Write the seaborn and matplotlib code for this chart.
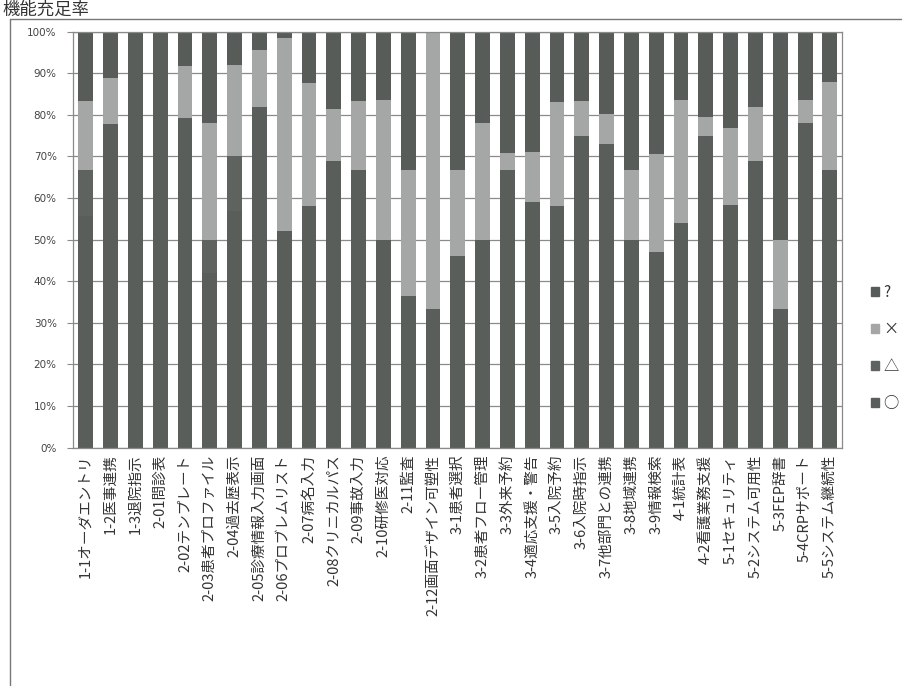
import matplotlib
matplotlib.use('Agg')
import matplotlib.pyplot as plt
from matplotlib.patches import Patch
from matplotlib.lines import Line2D
import seaborn as sns
import pandas as pd
import numpy as np

# データ (%)
labels = ['1-1オーダエントリ', '1-2医事連携', '1-3退院指示', '2-01問診表', '2-02テンプレート',
          '2-03患者プロファイル', '2-04過去歴表示', '2-05診療情報入力画面', '2-06プロブレムリスト',
          '2-07病名入力', '2-08クリニカルパス', '2-09事故入力', '2-10研修医対応', '2-11監査',
          '2-12画面デザイン可塑性', '3-1患者選択', '3-2患者フロー管理', '3-3外来予約',
          '3-4適応支援・警告', '3-5入院予約', '3-6入院時指示', '3-7他部門との連携', '3-8地域連携',
          '3-9情報検索', '4-1統計表', '4-2看護業務支援', '5-1セキュリティ', '5-2システム可用性',
          '5-3FEP辞書', '5-4CRPサポート', '5-5システム継続性']

maru    = [55.6, 77.8, 100, 100, 79.2, 42, 57, 81.8, 52, 58, 69, 66.7, 50, 36.4, 33.3,
           46, 50, 66.7, 59, 58, 75, 73, 50, 47, 54, 75, 58.3, 69, 33.3, 78, 66.7]
sankaku = [11.1, 0, 0, 0, 0, 8, 13, 0, 0, 0, 0, 0, 0, 0, 0,
           0, 0, 0, 0, 0, 0, 0, 0, 0, 0, 0, 0, 0, 0, 0, 0]
batsu   = [16.7, 11.1, 0, 0, 12.5, 28, 22, 13.7, 46.4, 29.6, 12.3, 16.6, 33.5, 30.3, 66.7,
           20.7, 28, 4.2, 12, 25.2, 8.3, 7.3, 16.7, 23.5, 29.6, 4.5, 18.5, 13, 16.7, 5.6, 21.3]
hatena  = [16.6, 11.1, 0, 0, 8.3, 22, 8, 4.5, 1.6, 12.4, 18.7, 16.7, 16.5, 33.3, 0,
           33.3, 22, 29.1, 29, 16.8, 16.7, 19.7, 33.3, 29.5, 16.4, 20.5, 23.2, 18, 50, 16.4, 12]

c_maru = '#595e5b'
c_sankaku = '#5e6360'
c_batsu = '#a4a7a6'
c_hatena = '#575c59'

df = pd.DataFrame({'項目': labels, 'maru': maru, 'sankaku': sankaku,
                   'batsu': batsu, 'hatena': hatena})
df['s1'] = df['maru']
df['s2'] = df['s1'] + df['sankaku']
df['s3'] = df['s2'] + df['batsu']
df['s4'] = df['s3'] + df['hatena']

sns.set_style('white')
plt.rcParams['font.family'] = ['Noto Sans CJK JP', 'DejaVu Sans']

fig = plt.figure(figsize=(9.02, 6.86), dpi=100)
ax = fig.add_axes([0.0813, 0.3474, 0.8525, 0.6064])

# 積み上げ棒 (上から重ねる)
for col, c in [('s4', c_hatena), ('s3', c_batsu), ('s2', c_sankaku), ('s1', c_maru)]:
    sns.barplot(data=df, x='項目', y=col, color=c, width=0.6, saturation=1,
                edgecolor='none', ax=ax)

ax.set_ylim(0, 100)
ax.set_xlim(-0.5, len(labels) - 0.5)
ax.set_yticks(np.arange(0, 101, 10))
ax.set_yticklabels([f'{v}%' for v in range(0, 101, 10)], fontsize=7.5, color='#444444',
                   family=['DejaVu Sans'])
ax.set_xticks(range(len(labels)))
ax.set_xticklabels(labels, rotation=90, fontsize=10.5, color='#333333', ha='center', va='top')
ax.set_xlabel('')
ax.set_ylabel('')
ax.yaxis.grid(True, color='#8a8a8a', linewidth=0.9)
ax.set_axisbelow(True)
ax.tick_params(axis='y', length=4, color='#8a8a8a', pad=8, left=True)
ax.tick_params(axis='x', length=0, pad=5)
for s in ax.spines.values():
    s.set_color('#8a8a8a')
    s.set_linewidth(0.9)

# 凡例
handles = [Patch(color=c_hatena, label='?'), Patch(color=c_batsu, label='×'),
           Patch(color=c_sankaku, label='△'), Patch(color=c_maru, label='○')]
fig.legend(handles=handles, loc='center left', bbox_to_anchor=(0.95, 0.493),
           frameon=False, fontsize=11, handlelength=0.55, handleheight=0.55,
           handletextpad=0.3, labelspacing=1.3, labelcolor='#333333')

# 枠線とタイトル
fig.add_artist(Line2D([0.011, 1.0], [0.972, 0.972], color='#777777', linewidth=1.0))
fig.add_artist(Line2D([0.011, 0.011], [0.0, 0.972], color='#777777', linewidth=1.0))
fig.text(0.003, 0.999, '機能充足率', fontsize=12.5, color='#333333', va='top', ha='left')

fig.savefig('out.png', dpi=100, facecolor='white')
